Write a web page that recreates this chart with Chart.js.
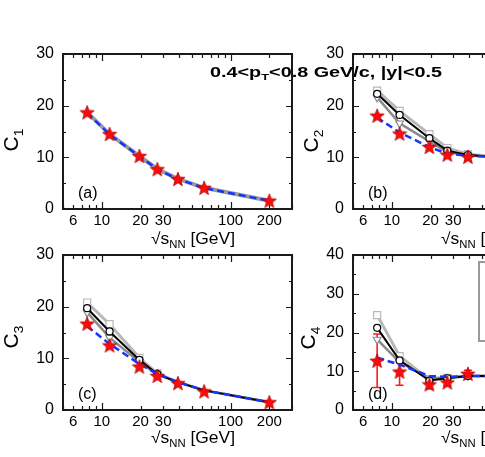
<!DOCTYPE html>
<html><head><meta charset="utf-8">
<script src="https://cdn.jsdelivr.net/npm/chart.js@4/dist/chart.umd.min.js"></script>
<style>
html,body{margin:0;padding:0;background:#fff;}
body{width:485px;height:457px;overflow:hidden;position:relative;font-family:"Liberation Sans",Arial,Helvetica,sans-serif;color:#000;}
canvas{position:absolute;}
.t{position:absolute;white-space:nowrap;line-height:1;}
.sub{font-size:0.65em;position:relative;top:0.35em;}
.yt{position:absolute;white-space:nowrap;line-height:1;font-size:21px;transform:translate(-50%,-50%) rotate(-90deg);}
</style></head><body>
<canvas id="ca" width="300" height="230" style="left:0;top:0"></canvas>
<canvas id="cb" width="300" height="230" style="left:290px;top:0"></canvas>
<canvas id="cc" width="300" height="230" style="left:0;top:201px"></canvas>
<canvas id="cd" width="300" height="230" style="left:290px;top:201px"></canvas>

<div class="t" data-w="232" style="left:210px;top:64px;font-weight:bold;font-size:15px">0.4&lt;p<span class="sub">T</span>&lt;0.8 GeV/c, |y|&lt;0.5</div>

<div class="t" data-w="84" style="left:151px;top:231px;font-size:16px">√s<span class="sub">NN</span> [GeV]</div>
<div class="t" data-w="84" style="left:441px;top:231px;font-size:16px">√s<span class="sub">NN</span> [GeV]</div>
<div class="t" data-w="84" style="left:151px;top:430px;font-size:16px">√s<span class="sub">NN</span> [GeV]</div>
<div class="t" data-w="84" style="left:441px;top:430px;font-size:16px">√s<span class="sub">NN</span> [GeV]</div>

<div class="yt" style="left:9.5px;top:140px">C<span class="sub">1</span></div>
<div class="yt" style="left:310px;top:141px">C<span class="sub">2</span></div>
<div class="yt" style="left:9.5px;top:337px">C<span class="sub">3</span></div>
<div class="yt" style="left:307px;top:338px">C<span class="sub">4</span></div>

<script>
// ---- data ----
const energies = [7.7, 11.5, 19.6, 27, 39, 62.4, 200];
const xTickValues = [6, 10, 20, 30, 100, 200];
const xMajorTicks = [10, 100];
const xMinorTicks = [5, 6, 7, 8, 9, 20, 30, 40, 50, 60, 70, 80, 90, 200, 300];
const yTicks30 = [0, 10, 20, 30];
const yMinor30 = [5, 15, 25];
const yTicks40 = [0, 10, 20, 30, 40];
const yMinor40 = [5, 15, 25, 35];

const c1Data  = [18.7, 14.5, 10.25, 7.7, 5.8, 4.1, 1.6];
const c1Base  = [18.6, 14.4, 10.2, 7.7, 5.8, 4.05, 1.6];
const c1Model = [18.7, 14.5, 10.25, 7.75, 5.85, 4.1, 1.6];

const c2Data     = [18.05, 14.6, 12.0, 10.5, 10.1];
const c2Base     = [17.7, 14.8, 12.0, 10.7, 10.3, 10.05];
const c2Square   = [22.9, 19.0, 14.5, 11.8, 10.6, 10.15];
const c2Circle   = [22.3, 18.2, 13.7, 11.3, 10.45, 10.1];
const c2Triangle = [21.6, 16.6, 13.1, 11.0, 10.35, 10.05];

const c3Data     = [16.7, 12.5, 8.4, 6.6, 5.2, 3.6, 1.5];
const c3Base     = [16.2, 12.8, 8.9, 7.0, 5.4, 3.8, 1.5];
const c3Square   = [20.8, 16.6, 10.1, 7.1, 5.4, 3.8, 1.5];
const c3Circle   = [19.7, 15.2, 9.7, 6.95, 5.4, 3.8, 1.5];
const c3Triangle = [18.9, 14.0, 9.3, 6.85, 5.4, 3.8, 1.5];

const c4Data     = [12.7, 9.9, 6.6, 7.1, 9.35];
const c4Err      = [6.9, 3.5, 1.1, 0.8, 0.9];
const c4Base     = [13.5, 11.7, 8.8, 8.5, 8.8, 8.8];
const c4Square   = [24.5, 13.9, 7.8, 8.3, 8.8, 8.8];
const c4Circle   = [21.2, 12.8, 7.6, 8.2, 8.8, 8.8];
const c4Triangle = [18.2, 12.3, 8.2, 8.4, 8.8, 8.8];

// ---- helpers ----
const FONT = '"Liberation Sans", Arial, Helvetica, sans-serif';
function pts(vals) { return vals.map((v, i) => ({ x: energies[i], y: v })); }

function makeStar(size) {
  const c = document.createElement('canvas');
  c.width = size; c.height = size;
  const g = c.getContext('2d');
  const cx = size / 2, cy = size / 2 + 0.6, R = size / 2 - 0.5, r = R * 0.42;
  g.beginPath();
  for (let i = 0; i < 10; i++) {
    const a = -Math.PI / 2 + i * Math.PI / 5;
    const rr = i % 2 ? r : R;
    g.lineTo(cx + rr * Math.cos(a), cy + rr * Math.sin(a));
  }
  g.closePath();
  g.fillStyle = '#ff0a0a'; g.fill();
  g.strokeStyle = '#b00000'; g.lineWidth = 0.8; g.stroke();
  return c;
}
const starImg = makeStar(16);

const framePlugin = {
  id: 'frame',
  beforeDatasetsDraw(chart, args, o) {
    if (!o.errors) return;
    const { ctx, scales: { x, y } } = chart;
    ctx.save();
    ctx.strokeStyle = '#ff1a1a'; ctx.lineWidth = 1.6;
    o.errors.forEach((e, i) => {
      const v = o.values[i];
      const px = x.getPixelForValue(energies[i]);
      const y1 = y.getPixelForValue(v + e), y2 = y.getPixelForValue(v - e);
      ctx.beginPath();
      ctx.moveTo(px, y1); ctx.lineTo(px, y2);
      ctx.moveTo(px - 4, y1); ctx.lineTo(px + 4, y1);
      ctx.moveTo(px - 4, y2); ctx.lineTo(px + 4, y2);
      ctx.stroke();
    });
    ctx.restore();
  },
  afterDatasetsDraw(chart, args, o) {
    const { ctx, chartArea: a, scales: { x, y } } = chart;
    ctx.save();
    ctx.strokeStyle = '#1a1a1a'; ctx.lineWidth = 1.2;
    ctx.beginPath();
    const xt = (list, len) => list.forEach(v => {
      const px = Math.round(x.getPixelForValue(v)) + 0.5;
      ctx.moveTo(px, a.bottom); ctx.lineTo(px, a.bottom - len);
      ctx.moveTo(px, a.top); ctx.lineTo(px, a.top + len);
    });
    const yt = (list, len) => list.forEach(v => {
      const py = Math.round(y.getPixelForValue(v)) + 0.5;
      ctx.moveTo(a.left, py); ctx.lineTo(a.left + len, py);
      ctx.moveTo(a.right, py); ctx.lineTo(a.right - len, py);
    });
    xt(xMajorTicks, 7); xt(xMinorTicks, 4);
    yt(o.yMajor, 6); yt(o.yMinor, 3);
    ctx.stroke();
    ctx.lineWidth = 2;
    ctx.strokeRect(a.left, a.top, a.right - a.left, a.bottom - a.top);
    if (o.box) {
      ctx.strokeStyle = '#9a9a9a'; ctx.lineWidth = 2;
      ctx.strokeRect(a.left + 126, a.top + 7, 140, 79);
    }
    ctx.fillStyle = '#000';
    ctx.font = '16px ' + FONT;
    ctx.textBaseline = 'alphabetic'; ctx.textAlign = 'left';
    ctx.fillText(o.label, a.left + 15, a.bottom - 11);
    ctx.restore();
  }
};

function panelChart(id, p) {
  const ds = [];
  ds.push({ data: pts(p.data), showLine: false, pointStyle: starImg, pointRadius: 7, pointHoverRadius: 7, order: 0 });
  ds.push({ data: pts(p.base), borderColor: '#1535ff', borderWidth: 2.5, borderDash: [7, 4], pointRadius: 0, fill: false, order: 1 });
  p.models.forEach(m => ds.push({
    data: pts(m.vals), borderColor: m.color, borderWidth: m.width, fill: false,
    pointStyle: m.style, pointRotation: m.rot || 0, pointRadius: m.radius,
    pointBackgroundColor: '#fff', pointBorderColor: m.color, pointBorderWidth: 1.2, order: m.order
  }));
  return new Chart(document.getElementById(id), {
    type: 'line',
    data: { datasets: ds },
    options: {
      responsive: false, animation: false, devicePixelRatio: 1, events: [],
      layout: { padding: { top: 54, right: 6, left: 0, bottom: 0 } },
      elements: { line: { tension: 0 } },
      plugins: {
        legend: { display: false }, tooltip: { enabled: false },
        frame: { label: p.label, yMajor: p.yTicks, yMinor: p.yMinor, errors: p.errors || null, values: p.data, box: !!p.box }
      },
      scales: {
        x: {
          type: 'logarithmic', min: 5, max: 300, bounds: 'data',
          grid: { display: false, drawTicks: false }, border: { display: false },
          afterBuildTicks: s => { s.ticks = xTickValues.map(v => ({ value: v })); },
          afterFit: s => { s.height = 21; },
          ticks: { autoSkip: false, maxRotation: 0, minRotation: 0, padding: 3, color: '#000',
                   font: { family: FONT, size: 15 }, callback: v => String(v) }
        },
        y: {
          type: 'linear', min: 0, max: p.ymax,
          grid: { display: false, drawTicks: false }, border: { display: false },
          afterBuildTicks: s => { s.ticks = p.yTicks.map(v => ({ value: v })); },
          afterFit: s => { s.width = 63; },
          ticks: { padding: 9, color: '#000', font: { family: FONT, size: 16 } }
        }
      }
    },
    plugins: [framePlugin]
  });
}

function models(sq, ci, tr, radii) {
  return [
    { vals: sq, color: '#b8b8b8', width: 3, style: 'rect', radius: radii, order: 4 },
    { vals: tr, color: '#8a8a8a', width: 2.5, style: 'triangle', rot: 180, radius: radii.map(r => r ? 4.5 : 0), order: 3 },
    { vals: ci, color: '#000000', width: 2, style: 'circle', radius: radii.map(r => r ? 3.5 : 0), order: 2 }
  ];
}

panelChart('ca', { label: '(a)', data: c1Data, base: c1Base, ymax: 30, yTicks: yTicks30, yMinor: yMinor30,
  models: [{ vals: c1Model, color: '#9a9a9a', width: 4, style: 'circle', radius: 0, order: 4 }] });
panelChart('cb', { label: '(b)', data: c2Data, base: c2Base, ymax: 30, yTicks: yTicks30, yMinor: yMinor30,
  models: models(c2Square, c2Circle, c2Triangle, [5, 5, 5, 5, 5, 0]) });
panelChart('cc', { label: '(c)', data: c3Data, base: c3Base, ymax: 30, yTicks: yTicks30, yMinor: yMinor30,
  models: models(c3Square, c3Circle, c3Triangle, [5, 5, 5, 5, 0, 0, 0]) });
panelChart('cd', { label: '(d)', data: c4Data, base: c4Base, ymax: 40, yTicks: yTicks40, yMinor: yMinor40,
  errors: c4Err, box: true,
  models: models(c4Square, c4Circle, c4Triangle, [5, 5, 5, 5, 5, 0]) });

document.querySelectorAll('[data-w]').forEach(el => {
  const w = el.getBoundingClientRect().width;
  el.style.transformOrigin = '0 0';
  el.style.transform = 'scaleX(' + (parseFloat(el.dataset.w) / w) + ')';
});
</script>
</body></html>
